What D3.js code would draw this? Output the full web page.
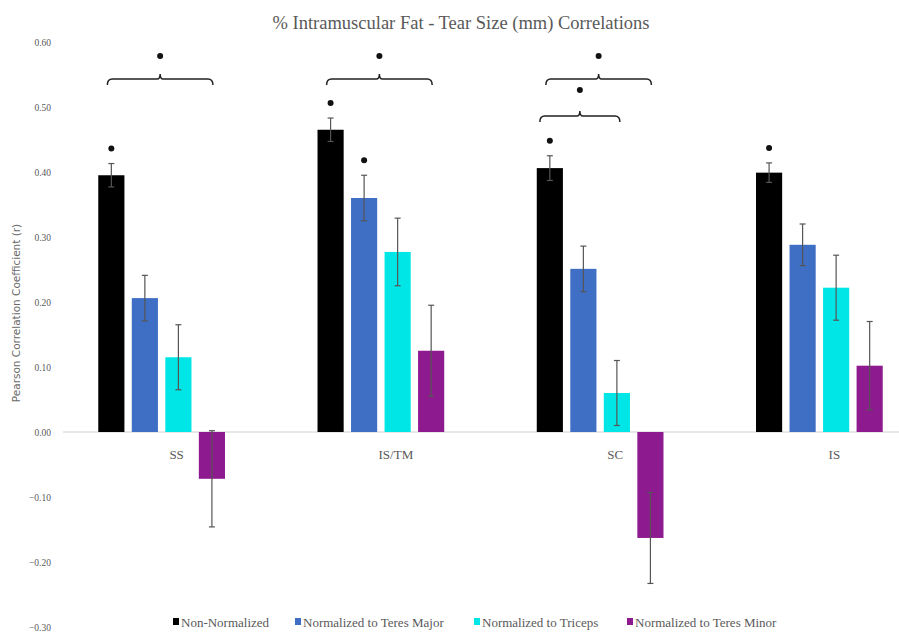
<!DOCTYPE html>
<html>
<head>
<meta charset="utf-8">
<script src="https://cdn.jsdelivr.net/npm/d3@7"></script>
<style>
  html, body { margin: 0; padding: 0; background: #fff; }
  svg { display: block; }
</style>
</head>
<body>
<svg id="chart" width="899" height="642"></svg>
<script>
// Muscle groups on the x axis
const categories = ["SS", "IS/TM", "SC", "IS"];
// Series (normalisation methods)
const seriesNames = ["Non-Normalized", "Normalized to Teres Major", "Normalized to Triceps", "Normalized to Teres Minor"];
const seriesColors = ["#000000", "#3f6fc4", "#00e5e5", "#8e1a8f"];
// Pearson r per series, in category order
const nonNormalized = [0.395, 0.465, 0.406, 0.399];
const teresMajor    = [0.206, 0.360, 0.251, 0.288];
const triceps       = [0.115, 0.277, 0.060, 0.222];
const teresMinor    = [-0.072, 0.125, -0.163, 0.102];
// Error bar half-widths per series
const errNonNormalized = [0.018, 0.018, 0.019, 0.015];
const errTeresMajor    = [0.035, 0.035, 0.035, 0.032];
const errTriceps       = [0.050, 0.052, 0.050, 0.050];
const errTeresMinor    = [0.074, 0.070, 0.070, 0.068];
// Y axis ticks
const yTicks = [-0.30, -0.20, -0.10, 0.00, 0.10, 0.20, 0.30, 0.40, 0.50, 0.60];
// Significance marks above single bars: [category index, series index]
const starredBars = [[0, 0], [1, 0], [1, 1], [2, 0], [3, 0]];
// Brackets between series within a category: [category, from series, to series, level]
const brackets = [[0, 0, 3, 0], [1, 0, 3, 0], [2, 0, 3, 0], [2, 0, 2, 1]];

const values = [nonNormalized, teresMajor, triceps, teresMinor];
const errors = [errNonNormalized, errTeresMajor, errTriceps, errTeresMinor];

const svg = d3.select("#chart");
const grey = "#595959";
const serif = "Liberation Serif";

const y = d3.scaleLinear().domain([-0.30, 0.60]).range([627, 42]);
const x0 = d3.scaleBand().domain(categories).range([52, 929]);
const x1 = d3.scaleBand().domain(d3.range(seriesNames.length)).range([0, x0.bandwidth()])
  .paddingInner(0.22).paddingOuter(1.38);
const barCenter = (ci, si) => x0(categories[ci]) + x1(si) + x1.bandwidth() / 2;

// Title
svg.append("text")
  .style("font-family", serif)
  .attr("x", 461).attr("y", 29)
  .attr("text-anchor", "middle")
  .attr("font-size", 18.5)
  .attr("fill", grey)
  .text("% Intramuscular Fat  - Tear Size (mm) Correlations");

// Y axis tick labels
const yAxis = d3.axisLeft(y).tickValues(yTicks).tickFormat(d3.format(".2f")).tickSize(0).tickPadding(0);
const yg = svg.append("g").attr("transform", "translate(51,0)").call(yAxis);
yg.select(".domain").remove();
yg.selectAll("text")
  .style("font-family", serif).attr("font-size", 9.5).attr("fill", grey);

// Y axis title
svg.append("text")
  .style("font-family", "DejaVu Sans")
  .attr("transform", "translate(20,313) rotate(-90)")
  .attr("text-anchor", "middle")
  .attr("font-size", 10.5).attr("fill", "#6a6a6a")
  .text("Pearson Correlation  Coefficient (r)");

// Zero line
svg.append("line")
  .attr("x1", 63).attr("x2", 899)
  .attr("y1", y(0)).attr("y2", y(0))
  .attr("stroke", "#d0d0d0").attr("stroke-width", 1);

// Bars
const flat = [];
categories.forEach((c, ci) => {
  values.forEach((vals, si) => {
    flat.push({ c, ci, si, v: vals[ci], e: errors[si][ci] });
  });
});

svg.append("g").selectAll("rect").data(flat).join("rect")
  .attr("x", d => x0(d.c) + x1(d.si))
  .attr("width", x1.bandwidth())
  .attr("y", d => y(Math.max(0, d.v)))
  .attr("height", d => Math.abs(y(d.v) - y(0)))
  .attr("fill", d => seriesColors[d.si]);

// Error bars
const eg = svg.append("g").attr("stroke", "#555").attr("stroke-width", 1.2);
flat.forEach(d => {
  const cx = barCenter(d.ci, d.si);
  const y1 = y(d.v + d.e), y2 = y(d.v - d.e);
  eg.append("line").attr("x1", cx).attr("x2", cx).attr("y1", y1).attr("y2", y2);
  eg.append("line").attr("x1", cx - 3).attr("x2", cx + 3).attr("y1", y1).attr("y2", y1);
  eg.append("line").attr("x1", cx - 3).attr("x2", cx + 3).attr("y1", y2).attr("y2", y2);
});

// Category labels
svg.append("g").selectAll("text").data(categories).join("text")
  .style("font-family", serif)
  .attr("x", d => x0(d) + x0.bandwidth() / 2 + 15)
  .attr("y", y(0) + 27)
  .attr("text-anchor", "middle")
  .attr("font-size", 13).attr("fill", grey)
  .text(d => d);

// Significance dots above bars
starredBars.forEach(([ci, si]) => {
  const d = flat.find(f => f.ci === ci && f.si === si);
  svg.append("circle")
    .attr("cx", barCenter(ci, si)).attr("cy", y(d.v + d.e) - 15)
    .attr("r", 3).attr("fill", "#111");
});

// Brackets with a dot above each
brackets.forEach(([ci, a, b, level]) => {
  const xa = barCenter(ci, a) + (level ? -10 : -4);
  const xb = barCenter(ci, b) + (level ? 3 : 1);
  const by = level ? 116 : 79;
  const xm = (xa + xb) / 2;
  const p = d3.path();
  p.moveTo(xa, by + 6);
  p.quadraticCurveTo(xa, by, xa + 5, by);
  p.lineTo(xm - 3, by);
  p.quadraticCurveTo(xm, by, xm, by - 5);
  p.quadraticCurveTo(xm, by, xm + 3, by);
  p.lineTo(xb - 5, by);
  p.quadraticCurveTo(xb, by, xb, by + 6);
  svg.append("path").attr("d", p.toString())
    .attr("fill", "none").attr("stroke", "#222").attr("stroke-width", 1.5);
  svg.append("circle").attr("cx", xm).attr("cy", by - (level ? 26 : 23)).attr("r", 3).attr("fill", "#111");
});

// Legend
const legendX = [173, 295, 474, 627];
const lg = svg.append("g");
seriesNames.forEach((name, i) => {
  lg.append("rect")
    .attr("x", legendX[i]).attr("y", 618)
    .attr("width", 6).attr("height", 7)
    .attr("fill", seriesColors[i]);
  lg.append("text")
    .style("font-family", serif)
    .attr("x", legendX[i] + 8).attr("y", 627)
    .attr("font-size", 13).attr("fill", grey)
    .text(name);
});
</script>
</body>
</html>
